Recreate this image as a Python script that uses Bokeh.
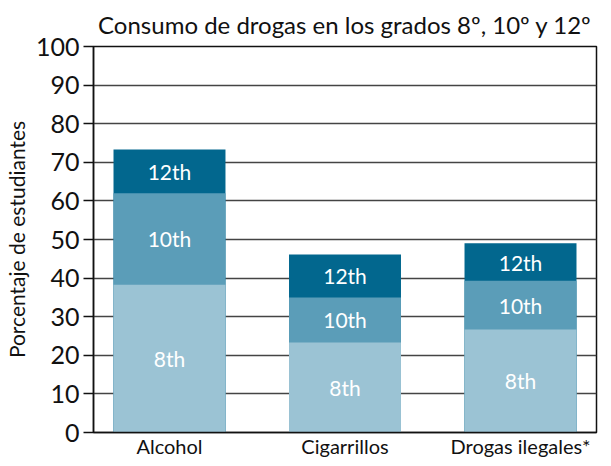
from bokeh.plotting import figure
from bokeh.models import ColumnDataSource, FactorRange, Range1d, FixedTicker
from bokeh.embed import file_html
from bokeh.resources import INLINE
from bokeh.core.properties import value

categories = ["Alcohol", "Cigarrillos", "Drogas ilegales*"]
grades = ["8th", "10th", "12th"]
grade8 = [38.3, 23.3, 26.7]
grade10 = [62.0, 35.0, 39.3]
grade12 = [73.3, 46.1, 49.0]
y_ticks = [0, 10, 20, 30, 40, 50, 60, 70, 80, 90, 100]

colors = {"8th": "#9bc3d4", "10th": "#5b9db8", "12th": "#02678e"}
FONT = "Lato"

p = figure(
    frame_width=503, frame_height=386,
    x_range=FactorRange(factors=categories, range_padding=-0.067, range_padding_units="absolute"),
    y_range=Range1d(0, 100),
    output_backend="svg", toolbar_location=None,
    title="Consumo de drogas en los grados 8º, 10º y 12º",
    min_border_left=88, min_border_right=4, min_border_top=0, min_border_bottom=0,
)
p.title.text_font = FONT
p.title.text_font_size = "24px"
p.title.text_font_style = "normal"
p.title.align = "center"
p.title.text_color = "#111111"
p.title.standoff = 15

src = ColumnDataSource(dict(cat=categories, g8=grade8, g10=grade10, g12=grade12))
# overlapping bars: tallest first
for key, col in (("12th", "g12"), ("10th", "g10"), ("8th", "g8")):
    p.vbar(x="cat", top=col, bottom=0, width=0.638, source=src,
           fill_color=colors[key], line_color=None)

# labels at the middle of each visible segment
lab_x, lab_y, lab_t = [], [], []
for i, c in enumerate(categories):
    lows = [0, grade8[i], grade10[i]]
    highs = [grade8[i], grade10[i], grade12[i]]
    for g, lo, hi in zip(grades, lows, highs):
        lab_x.append(c)
        lab_y.append((lo + hi) / 2)
        lab_t.append(g)
p.text(x=lab_x, y=lab_y, text=lab_t, text_color="white", text_align="center",
       text_baseline="middle", text_font=value(FONT), text_font_size="21px")

p.yaxis.ticker = FixedTicker(ticks=y_ticks)
p.yaxis.axis_label = "Porcentaje de estudiantes"
p.yaxis.axis_label_text_font = FONT
p.yaxis.axis_label_text_font_size = "21px"
p.yaxis.axis_label_text_font_style = "normal"
p.yaxis.axis_label_text_color = "#111111"
p.yaxis.axis_label_standoff = 4
p.yaxis.major_label_text_font = FONT
p.yaxis.major_label_text_font_size = "25px"
p.yaxis.major_label_text_color = "#111111"
p.yaxis.major_label_standoff = 4
p.yaxis.major_tick_out = 10
p.yaxis.major_tick_in = 0
p.yaxis.minor_tick_line_color = None
p.yaxis.axis_line_color = "#111111"
p.yaxis.axis_line_width = 1.5
p.yaxis.major_tick_line_color = "#111111"
p.yaxis.major_tick_line_width = 1.5

p.xaxis.major_label_text_font = FONT
p.xaxis.major_label_text_font_size = "20px"
p.xaxis.major_label_text_color = "#111111"
p.xaxis.major_label_standoff = 1
p.xaxis.major_tick_out = 0
p.xaxis.major_tick_in = 0
p.xaxis.major_tick_line_color = None
p.xaxis.minor_tick_line_color = None
p.xaxis.axis_line_color = "#111111"
p.xaxis.axis_line_width = 1.5

p.xgrid.grid_line_color = None
p.ygrid.grid_line_color = "#444444"
p.ygrid.grid_line_width = 1.5

p.outline_line_color = "#111111"
p.outline_line_width = 1.5
p.background_fill_color = "white"
p.border_fill_color = "white"

open("out.html", "w").write(file_html(p, INLINE))
